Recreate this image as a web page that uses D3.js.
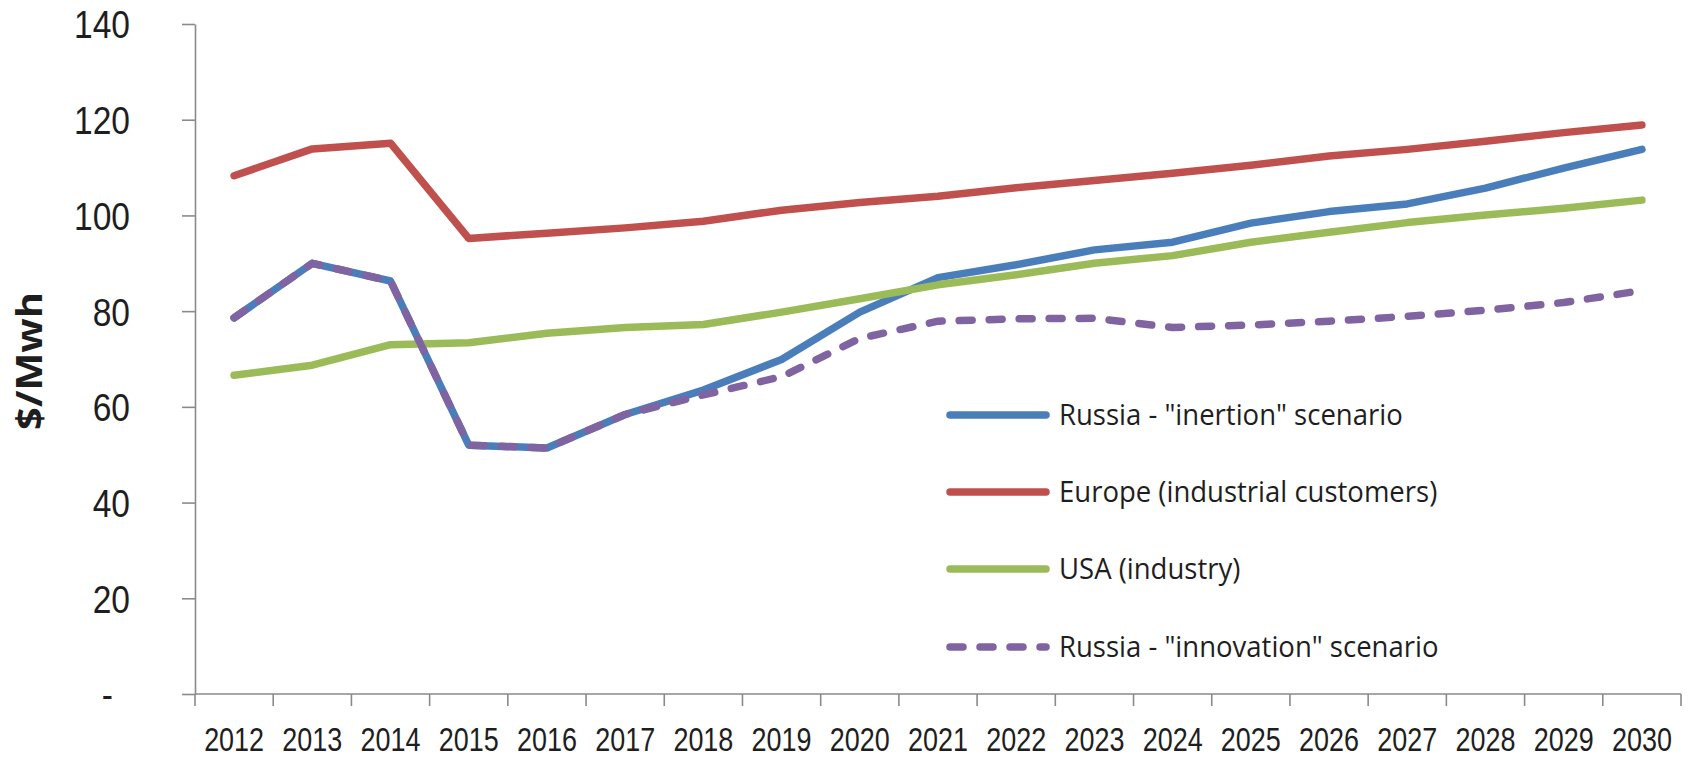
<!DOCTYPE html>
<html>
<head>
<meta charset="utf-8">
<script src="https://cdn.jsdelivr.net/npm/d3@7"></script>
<style>
html,body{margin:0;padding:0;background:#ffffff;}
svg{display:block;font-family:"Open Sans","Noto Sans",sans-serif;}
.ticklabel{font-family:"Liberation Sans",Arial,sans-serif;}
</style>
</head>
<body>
<svg id="chart" width="1692" height="759"></svg>
<script>
// ---------- data ----------
const years = ["2012","2013","2014","2015","2016","2017","2018","2019","2020","2021","2022","2023","2024","2025","2026","2027","2028","2029","2030"];
const yTickValues = [0, 20, 40, 60, 80, 100, 120, 140];
const seriesNames = ['Russia - "inertion" scenario', 'Europe (industrial customers)', 'USA (industry)', 'Russia - "innovation" scenario'];
const russiaInertion   = [78.6, 90.0, 86.3, 52.0, 51.4, 58.4, 63.5, 69.9, 79.8, 87.0, 89.7, 92.8, 94.4, 98.4, 100.8, 102.4, 105.7, 109.9, 113.8];
const europe           = [108.3, 113.9, 115.1, 95.2, 96.3, 97.4, 98.8, 101.1, 102.7, 104.0, 105.8, 107.3, 108.8, 110.5, 112.4, 113.8, 115.5, 117.3, 118.9];
const usa              = [66.6, 68.7, 73.0, 73.4, 75.4, 76.6, 77.2, 79.8, 82.6, 85.5, 87.6, 90.0, 91.6, 94.4, 96.5, 98.5, 100.1, 101.5, 103.2];
const russiaInnovation = [78.6, 90.0, 86.3, 52.0, 51.4, 58.4, 62.5, 66.3, 74.3, 77.9, 78.4, 78.5, 76.6, 77.1, 77.9, 78.9, 80.2, 81.8, 84.3];
const seriesColors = ["#4a7ebb", "#c0504d", "#9bbb59", "#8064a2"];
const seriesDashed = [false, false, false, true];
const yTitle = "$/Mwh";

// ---------- layout ----------
const svg = d3.select("#chart");
const plotLeft = 195, plotRight = 1681, plotTop = 24, plotBottom = 694;
const axisColor = "#8a8a8a";
const textColor = "#1e1e1e";
const lineWidth = 7.5;
const dash = "13,17";

const x = d3.scaleBand().domain(years).range([plotLeft, plotRight]).padding(0);
const y = d3.scaleLinear().domain([0, 140]).range([plotBottom, plotTop]);
const cx = d => x(d) + x.bandwidth() / 2;

function measure(text, size, weight, cls) {
  const t = svg.append("text").attr("class", cls || null)
    .attr("font-size", size).attr("font-weight", weight || "normal").text(text);
  const w = t.node().getComputedTextLength();
  t.remove();
  return w;
}

// ---------- y axis ----------
const yLabelSize = 39;
const ySx = 56 / measure("140", yLabelSize, "normal", "ticklabel");
const yAxis = d3.axisLeft(y).tickValues(yTickValues).tickSize(13).tickSizeOuter(0)
  .tickFormat(d => d === 0 ? "-" : String(d));
const gy = svg.append("g").attr("transform", `translate(${plotLeft},0)`).call(yAxis);
gy.attr("font-family", null).attr("font-size", null);
gy.select(".domain").attr("stroke", axisColor).attr("stroke-width", 1.6);
gy.selectAll(".tick line").attr("stroke", axisColor).attr("stroke-width", 1.6);
gy.selectAll(".tick text")
  .attr("class", "ticklabel")
  .attr("x", 0).attr("dy", "0.358em")
  .attr("font-size", yLabelSize).attr("fill", textColor)
  .attr("transform", d => `translate(${d === 0 ? -82 : -65},0) scale(${ySx},1)`);

// ---------- x axis ----------
svg.append("line")
  .attr("x1", plotLeft).attr("x2", plotRight)
  .attr("y1", plotBottom).attr("y2", plotBottom)
  .attr("stroke", axisColor).attr("stroke-width", 1.6);
const boundaries = years.map(d => x(d)).concat([x.range()[1]]);
svg.append("g").selectAll("line").data(boundaries).join("line")
  .attr("x1", d => d).attr("x2", d => d)
  .attr("y1", plotBottom).attr("y2", plotBottom + 12)
  .attr("stroke", axisColor).attr("stroke-width", 1.6);

const xLabelSize = 34;
const xSx = 60 / measure("2012", xLabelSize, "normal", "ticklabel");
svg.append("g").selectAll("text").data(years).join("text")
  .attr("class", "ticklabel")
  .attr("text-anchor", "middle")
  .attr("font-size", xLabelSize).attr("fill", textColor)
  .attr("transform", d => `translate(${cx(d)},751) scale(${xSx},1)`)
  .text(d => d);

// ---------- y title ----------
const titleSize = 36;
const tSx = 138 / measure(yTitle, titleSize, "bold");
svg.append("text")
  .attr("text-anchor", "middle").attr("font-weight", "bold")
  .attr("font-size", titleSize).attr("fill", textColor)
  .attr("transform", `translate(42,361) rotate(-90) scale(${tSx},1)`)
  .text(yTitle);

// ---------- lines ----------
const allSeries = [russiaInertion, europe, usa, russiaInnovation];
const line = d3.line().x((d, i) => cx(years[i])).y(d => y(d)).curve(d3.curveLinear);
svg.append("g").selectAll("path").data(allSeries).join("path")
  .attr("d", d => line(d))
  .attr("fill", "none")
  .attr("stroke", (d, i) => seriesColors[i])
  .attr("stroke-width", lineWidth)
  .attr("stroke-linejoin", "round")
  .attr("stroke-linecap", "round")
  .attr("stroke-dasharray", (d, i) => seriesDashed[i] ? dash : null);

// ---------- legend ----------
const legendX1 = 950, legendX2 = 1046, legendTextX = 1059;
const legendRowY = [415, 492, 569, 647];
const legendSize = 30;
const lSx = 344 / measure(seriesNames[0], legendSize);
const lg = svg.append("g").selectAll("g").data(seriesNames).join("g")
  .attr("transform", (d, i) => `translate(0,${legendRowY[i]})`);
lg.append("line")
  .attr("x1", legendX1).attr("x2", legendX2).attr("y1", 0).attr("y2", 0)
  .attr("stroke", (d, i) => seriesColors[i])
  .attr("stroke-width", lineWidth)
  .attr("stroke-linecap", "round")
  .attr("stroke-dasharray", (d, i) => seriesDashed[i] ? dash : null);
lg.append("text")
  .attr("font-size", legendSize).attr("fill", textColor)
  .attr("transform", `translate(${legendTextX},10) scale(${lSx},1)`)
  .text(d => d);
</script>
</body>
</html>
